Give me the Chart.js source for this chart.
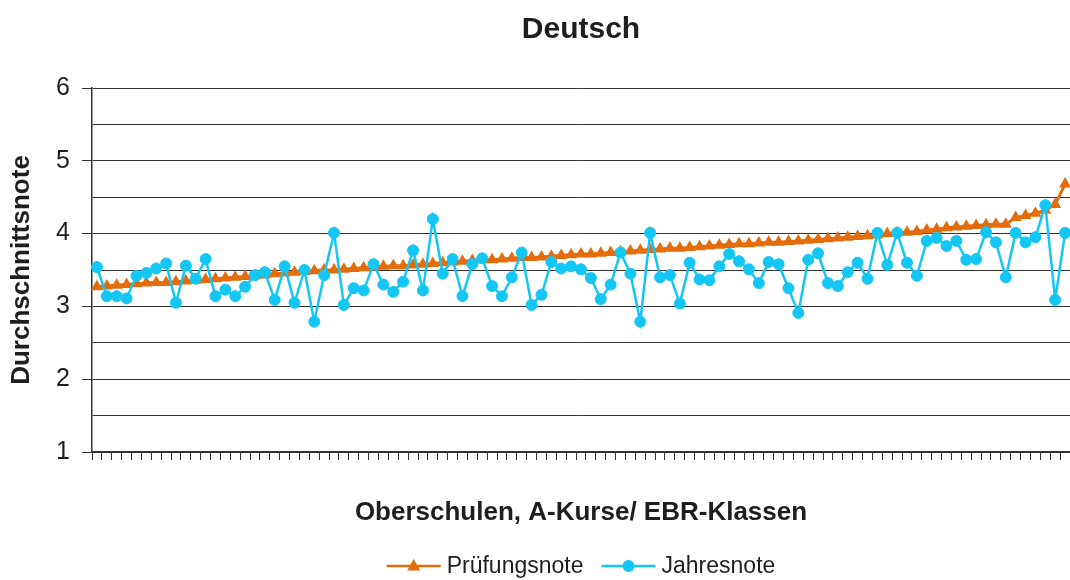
<!DOCTYPE html>
<html lang="de">
<head>
<meta charset="utf-8">
<title>Deutsch</title>
<script src="https://cdn.jsdelivr.net/npm/chart.js@4"></script>
<style>
  html, body { margin: 0; padding: 0; background: #fff; overflow: hidden; }
  #wrap { width: 1070px; height: 580px; position: relative; }
</style>
</head>
<body>
<div id="wrap"><canvas id="notenChart"></canvas></div>
<script>
// Prüfungsnote je Schule (aufsteigend sortiert)
const pruefungsnote = [
    3.27, 3.28, 3.29, 3.30, 3.31, 3.32, 3.33, 3.33, 3.34, 3.35,
    3.36, 3.37, 3.38, 3.39, 3.40, 3.41, 3.42, 3.43, 3.45, 3.46,
    3.47, 3.48, 3.49, 3.50, 3.50, 3.51, 3.52, 3.53, 3.54, 3.55,
    3.56, 3.56, 3.57, 3.58, 3.59, 3.60, 3.61, 3.62, 3.63, 3.64,
    3.64, 3.65, 3.66, 3.67, 3.67, 3.68, 3.69, 3.70, 3.71, 3.72,
    3.72, 3.73, 3.74, 3.75, 3.76, 3.77, 3.78, 3.79, 3.80, 3.80,
    3.81, 3.82, 3.83, 3.84, 3.85, 3.86, 3.86, 3.87, 3.88, 3.88,
    3.89, 3.90, 3.91, 3.92, 3.93, 3.94, 3.95, 3.96, 3.97, 3.98,
    4.00, 4.01, 4.02, 4.03, 4.05, 4.06, 4.08, 4.09, 4.10, 4.11,
    4.12, 4.13, 4.13, 4.22, 4.25, 4.28, 4.32, 4.40, 4.68
];

// Jahresnote derselben Schulen
const jahresnote = [
    3.54, 3.14, 3.14, 3.11, 3.42, 3.46, 3.52, 3.59, 3.05, 3.56,
    3.38, 3.65, 3.14, 3.23, 3.14, 3.27, 3.43, 3.47, 3.09, 3.55,
    3.05, 3.50, 2.79, 3.43, 4.01, 3.02, 3.25, 3.22, 3.58, 3.30,
    3.20, 3.34, 3.77, 3.22, 4.20, 3.45, 3.65, 3.14, 3.58, 3.66,
    3.28, 3.14, 3.40, 3.74, 3.02, 3.16, 3.61, 3.52, 3.55, 3.51,
    3.39, 3.10, 3.30, 3.74, 3.45, 2.79, 4.01, 3.40, 3.43, 3.04,
    3.60, 3.37, 3.36, 3.55, 3.72, 3.62, 3.51, 3.32, 3.61, 3.58,
    3.25, 2.91, 3.64, 3.73, 3.32, 3.28, 3.47, 3.60, 3.38, 4.01,
    3.57, 4.01, 3.60, 3.42, 3.90, 3.94, 3.83, 3.90, 3.64, 3.65,
    4.02, 3.88, 3.40, 4.01, 3.88, 3.95, 4.39, 3.09, 4.01
];

// Schulen werden nur durchnummeriert, Beschriftung bleibt leer
const schulen = pruefungsnote.map((_, i) => String(i + 1));

const yTicks = [1, 2, 3, 4, 5, 6];

const ORANGE = '#E46C0A';
const BLAU = '#14C6F4';
const FONT = "'Liberation Sans', Arial, sans-serif";
const TEXT = '#1e1e1e';
const LINIE = '#333333';

// Legende: Linie mit Marker, unter dem Diagramm zentriert
const legendePlugin = {
    id: 'legendeUnten',
    afterDraw(chart) {
        const ctx = chart.ctx;
        const area = chart.chartArea;
        const eintraege = [
            { text: 'Prüfungsnote', farbe: ORANGE, form: 'triangle' },
            { text: 'Jahresnote', farbe: BLAU, form: 'circle' }
        ];
        const linienBreite = 54;
        const abstandText = 6;
        const abstandEintrag = 18;
        const y = 566;

        ctx.save();
        ctx.font = '23px ' + FONT;
        ctx.textBaseline = 'middle';
        ctx.textAlign = 'left';

        const breiten = eintraege.map(e => linienBreite + abstandText + ctx.measureText(e.text).width);
        const gesamt = breiten.reduce((a, b) => a + b, 0) + abstandEintrag * (eintraege.length - 1);
        let x = (area.left + area.right) / 2 - gesamt / 2;

        eintraege.forEach((e, i) => {
            ctx.strokeStyle = e.farbe;
            ctx.fillStyle = e.farbe;
            ctx.lineWidth = 2.5;
            ctx.beginPath();
            ctx.moveTo(x, y);
            ctx.lineTo(x + linienBreite, y);
            ctx.stroke();

            const mx = x + linienBreite / 2;
            ctx.beginPath();
            if (e.form === 'triangle') {
                ctx.moveTo(mx, y - 7);
                ctx.lineTo(mx + 6.5, y + 4.5);
                ctx.lineTo(mx - 6.5, y + 4.5);
                ctx.closePath();
            } else {
                ctx.arc(mx, y, 6, 0, Math.PI * 2);
            }
            ctx.fill();

            ctx.fillStyle = TEXT;
            ctx.fillText(e.text, x + linienBreite + abstandText, y + 1);
            x += breiten[i] + abstandEintrag;
        });
        ctx.restore();
    }
};

const ctx = document.getElementById('notenChart').getContext('2d');

const notenChart = new Chart(ctx, {
    type: 'line',
    data: {
        labels: schulen,
        datasets: [
            {
                label: 'Prüfungsnote',
                data: pruefungsnote,
                borderColor: ORANGE,
                backgroundColor: ORANGE,
                borderWidth: 3,
                pointStyle: 'triangle',
                pointRadius: 7,
                pointBorderWidth: 0,
                tension: 0,
                order: 1
            },
            {
                label: 'Jahresnote',
                data: jahresnote,
                borderColor: BLAU,
                backgroundColor: BLAU,
                borderWidth: 2.5,
                pointStyle: 'circle',
                pointRadius: 5.5,
                pointBorderWidth: 1,
                tension: 0,
                order: 0
            }
        ]
    },
    options: {
        responsive: true,
        maintainAspectRatio: false,
        animation: false,
        layout: {
            autoPadding: false,
            padding: { left: 0, right: 0, top: 0, bottom: 42 }
        },
        plugins: {
            legend: { display: false },
            tooltip: { enabled: false },
            title: {
                display: true,
                fullSize: false,
                text: 'Deutsch',
                color: TEXT,
                font: { family: FONT, size: 30, weight: 'bold' },
                padding: { top: 12, bottom: 40 }
            }
        },
        scales: {
            x: {
                type: 'category',
                offset: true,
                grid: {
                    offset: true,
                    drawOnChartArea: false,
                    drawTicks: true,
                    tickLength: 8,
                    color: LINIE,
                    lineWidth: 1
                },
                border: { display: true, color: LINIE, width: 1.5 },
                ticks: { display: false, autoSkip: false },
                title: {
                    display: true,
                    text: 'Oberschulen, A-Kurse/ EBR-Klassen',
                    color: TEXT,
                    font: { family: FONT, size: 26, weight: 'bold' },
                    padding: { top: 37, bottom: 10 }
                },
                afterFit: (scale) => { scale.height = 86; }
            },
            y: {
                min: 1,
                max: 6,
                grid: {
                    color: LINIE,
                    lineWidth: 1,
                    drawTicks: true,
                    tickLength: 10,
                    tickColor: (c) => yTicks.includes(c.tick && c.tick.value) ? LINIE : 'rgba(0,0,0,0)'
                },
                border: { display: true, color: LINIE, width: 1.5 },
                ticks: {
                    stepSize: 0.5,
                    padding: 12,
                    color: TEXT,
                    font: { family: FONT, size: 25 },
                    callback: (value) => yTicks.includes(value) ? String(value) : ''
                },
                title: {
                    display: true,
                    text: 'Durchschnittsnote',
                    color: TEXT,
                    font: { family: FONT, size: 26, weight: 'bold' },
                    padding: { top: 6, bottom: 0 }
                },
                afterFit: (scale) => { scale.width = 92; }
            }
        }
    },
    plugins: [legendePlugin]
});
</script>
</body>
</html>
